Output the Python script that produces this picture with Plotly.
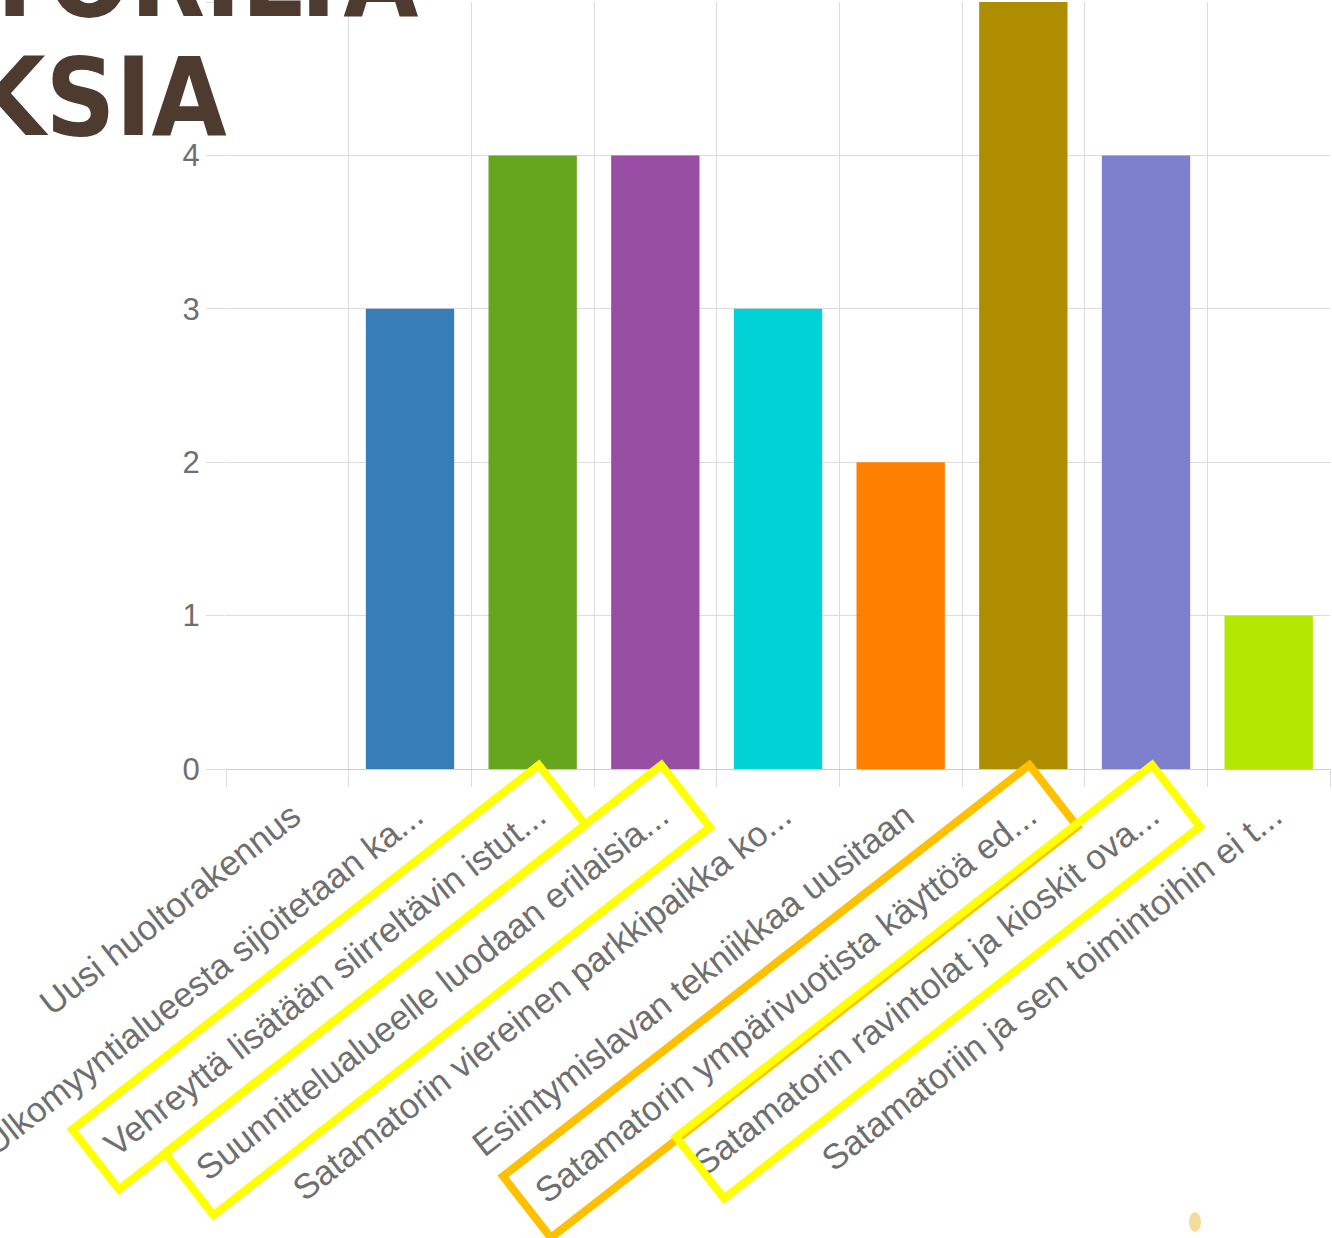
import math
import plotly.graph_objects as go

# ---------------- data ----------------
categories = [
    "Uusi huoltorakennus",
    "Ulkomyyntialueesta sijoitetaan ka...",
    "Vehreyttä lisätään siirreltävin istut...",
    "Suunnittelualueelle luodaan erilaisia...",
    "Satamatorin viereinen parkkipaikka ko...",
    "Esiintymislavan tekniikkaa uusitaan",
    "Satamatorin ympärivuotista käyttöä ed...",
    "Satamatorin ravintolat ja kioskit ova...",
    "Satamatoriin ja sen toimintoihin ei t...",
]
values = [0, 3, 4, 4, 3, 2, 5, 4, 1]
bar_colors = ["#e41a1c", "#377eb8", "#66a61e", "#984ea3", "#00d2d5",
              "#ff7f00", "#af8d00", "#7f80cd", "#b3e900"]
y_ticks = [0, 1, 2, 3, 4, 5]

# highlighted labels: (category index, colour, box length px, box width px)
highlights = [
    (2, "#ffff00", 592, 76),
    (3, "#ffff00", 630, 79),
    (6, "#ffc000", 668, 78),
    (7, "#ffff00", 604, 78),
]
title_lines = ["SATAMATORILTA", "EHDOTUKSIA"]

# ---------------- layout geometry ----------------
FW, FH = 1332, 1238
ML, MR, MT, MB = 226, 2, 2, 469
PW, PH = FW - ML - MR, FH - MT - MB
N = len(categories)


def to_paper(px, py):
    return (px - ML) / PW, 1 - (py - MT) / PH


def cat_center(i):
    return ML + (i + 0.5) * PW / N


fig = go.Figure()
fig.add_trace(go.Bar(
    x=categories, y=values,
    marker=dict(color=bar_colors, line=dict(width=0)),
    hoverinfo="x+y",
))

shapes = []
ang = math.radians(38)
along = (-math.cos(ang), math.sin(ang))
across = (math.sin(ang), math.cos(ang))
axis_y = MT + PH
for idx, col, L, S in highlights:
    tx, ty = cat_center(idx) + 6, axis_y - 4
    p1 = (tx, ty)
    p2 = (tx + across[0] * S, ty + across[1] * S)
    p3 = (p2[0] + along[0] * L, p2[1] + along[1] * L)
    p4 = (tx + along[0] * L, ty + along[1] * L)
    pts = [to_paper(*p) for p in (p1, p2, p3, p4)]
    path = "M " + " L ".join(f"{x:.5f},{y:.5f}" for x, y in pts) + " Z"
    shapes.append(dict(type="path", xref="paper", yref="paper", path=path,
                       line=dict(color=col, width=8), layer="above"))

# small decorative dot bottom right
d0 = to_paper(1189, 1212)
d1 = to_paper(1201, 1232)
shapes.append(dict(type="circle", xref="paper", yref="paper",
                   x0=d0[0], y0=d0[1], x1=d1[0], y1=d1[1],
                   fillcolor="#f6dc9c", line=dict(width=0)))

title_font = dict(family="Liberation Sans Narrow, DejaVu Sans Condensed, Arial Narrow",
                  size=108, color="#4e3b30", weight=700)
t1 = to_paper(420, -22)
t2 = to_paper(229, 98)
annotations = [
    dict(text=title_lines[0], xref="paper", yref="paper", x=t1[0], y=t1[1],
         xanchor="right", yanchor="middle", showarrow=False, font=title_font),
    dict(text=title_lines[1], xref="paper", yref="paper", x=t2[0], y=t2[1],
         xanchor="right", yanchor="middle", showarrow=False, font=title_font),
]

fig.update_layout(
    width=FW, height=FH,
    margin=dict(l=ML, r=MR, t=MT, b=MB, pad=0, autoexpand=False),
    paper_bgcolor="white", plot_bgcolor="white",
    bargap=0.28,
    showlegend=False,
    shapes=shapes,
    annotations=annotations,
    font=dict(family="Arial, Liberation Sans, sans-serif", color="#6f6f6f"),
    xaxis=dict(
        type="category",
        automargin=False,
        tickangle=-38,
        tickson="boundaries",
        ticks="outside", ticklen=17, tickcolor="#dcdcdc", tickwidth=1,
        ticklabelstandoff=19, ticklabelshift=5,
        showgrid=True, gridcolor="#dcdcdc", gridwidth=1,
        showline=False,
        tickfont=dict(size=35, color="#6f6f6f"),
        range=[-0.5, N - 0.5],
    ),
    yaxis=dict(
        automargin=False,
        range=[0, 5],
        tickvals=y_ticks,
        ticks="outside", ticklen=19, tickcolor="#dcdcdc", tickwidth=1,
        showgrid=True, gridcolor="#dcdcdc", gridwidth=1,
        zeroline=True, zerolinecolor="#cccccc", zerolinewidth=1,
        showline=False,
        tickfont=dict(size=31, color="#6f6f6f"),
    ),
)

fig.write_html("out.html", config={"displayModeBar": False},
               post_script="document.body.style.margin='0';")
